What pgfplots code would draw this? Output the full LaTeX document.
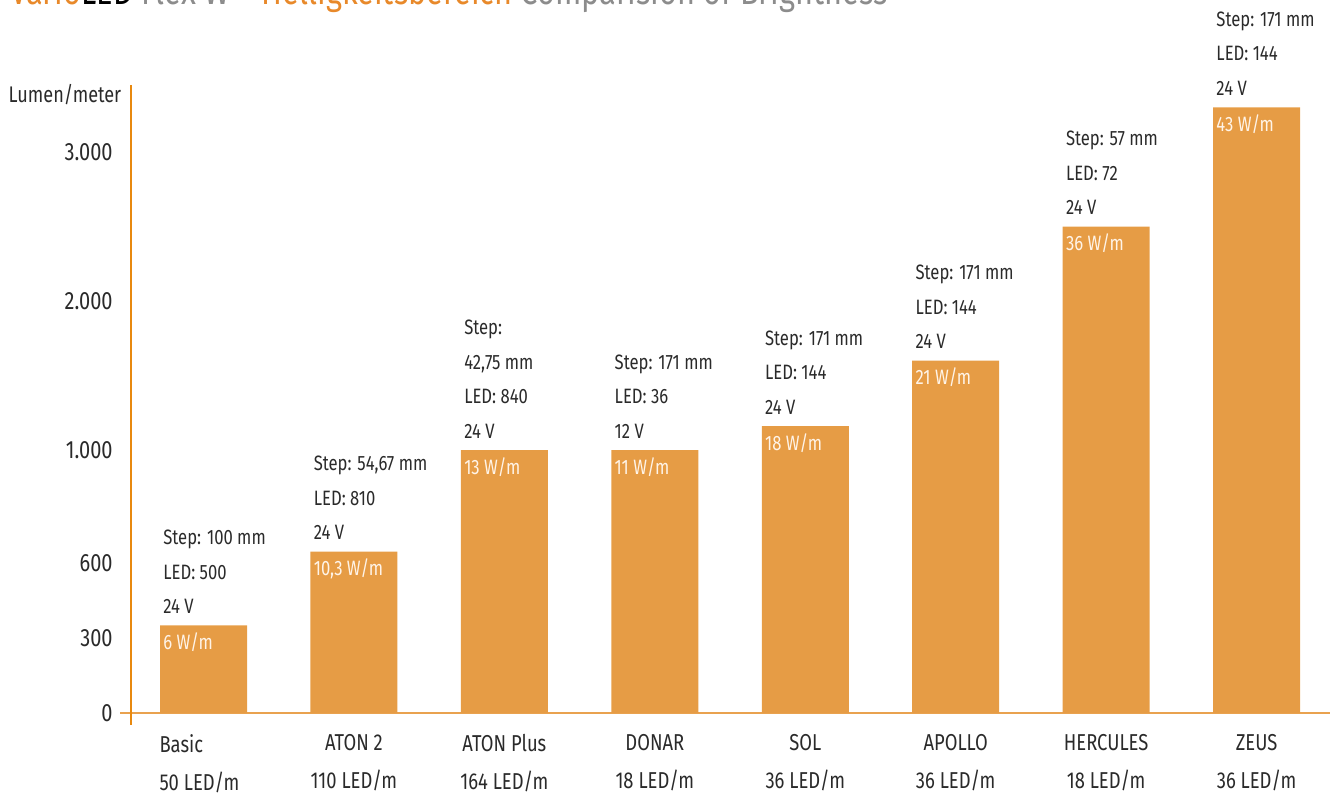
\documentclass[border=0pt]{standalone}
\usepackage{pgfplots}
\pgfplotsset{compat=1.18}
\usepackage{pgfplotstable}
\usepackage{fontspec}
\setmainfont{Fira Sans}[FakeStretch=0.8]
\definecolor{barc}{HTML}{E69C45}
\definecolor{axx}{HTML}{E9A24F}
\definecolor{axy}{HTML}{E8890F}
\definecolor{txt}{HTML}{2A2A2A}
\definecolor{wtxt}{HTML}{FFF4E8}
\definecolor{orT}{HTML}{E8892A}
\definecolor{grT}{HTML}{8C8C8C}

\pgfplotstableread{
x y step led volt watt
0 350 {Step: 100 mm} {LED: 500} {24 V} {6 W/m}
1 640 {Step: 54,67 mm} {LED: 810} {24 V} {10,3 W/m}
2 1000 {42,75 mm} {LED: 840} {24 V} {13 W/m}
3 1000 {Step: 171 mm} {LED: 36} {12 V} {11 W/m}
4 1160 {Step: 171 mm} {LED: 144} {24 V} {18 W/m}
5 1600 {Step: 171 mm} {LED: 144} {24 V} {21 W/m}
6 2500 {Step: 57 mm} {LED: 72} {24 V} {36 W/m}
7 3300 {Step: 171 mm} {LED: 144} {24 V} {43 W/m}
}\data

\pgfplotsset{
  lbl/.style={every node near coord/.append style={anchor=base west, inner sep=0pt, xshift=-20.25pt, yshift=#1, font=\fontsize{10.4}{12}\selectfont, text=txt}},
}
\newcommand\lft[1]{\makebox[0pt][l]{\hspace*{-22pt}#1}}

\begin{document}
\begin{tikzpicture}[x=1pt,y=1pt]
\useasboundingbox (0,0) rectangle (665,398);
\node[anchor=base west, inner sep=0pt, font=\fontsize{19.2}{21}\selectfont] at (5,395.5)
  {\textcolor{orT}{Vario}\textcolor{black}{LED} \textcolor{grT}{Flex W –} \textcolor{orT}{Helligkeitsbereich} \textcolor{grT}{Comparision of Brightness}};
\node[anchor=base east, inner sep=0pt, font=\fontsize{11.3}{13}\selectfont, text=txt] at (60.8,346.5) {Lumen/meter};
\begin{axis}[
  at={(65.5pt,41.5pt)}, anchor=south west, scale only axis,
  width=599.5pt, height=314pt,
  xmin=-0.482, xmax=7.488, ymin=0, ymax=3450,
  y coord trafo/.code={\pgfmathparse{0.25*min(#1,600)+0.2825*(min(max(#1,600),1000)-600)+0.149*(max(#1,1000)-1000)}},
  y coord inv trafo/.code={\pgfmathparse{4*min(#1,150)+(min(max(#1,150),263)-150)/0.2825+(max(#1,263)-263)/0.149}},
  axis lines*=left,
  x axis line style={draw=axx, line width=1pt, shorten <=-5.5pt},
  y axis line style={draw=axy, line width=0.75pt, shorten <=-6pt},
  major tick length=0pt,
  xtick={0,...,7},
  xticklabels={{\lft{Basic}\\\lft{50 LED/m}},{ATON 2\\110 LED/m},{ATON Plus\\164 LED/m},{DONAR\\18 LED/m},{SOL\\36 LED/m},{APOLLO\\36 LED/m},{HERCULES\\18 LED/m},{ZEUS\\36 LED/m}},
  xticklabel style={align=center, font=\fontsize{11.5}{19}\selectfont, text=txt, anchor=north, inner sep=0pt, yshift=-10.5pt},
  ytick={0,300,600,1000,2000,3000},
  yticklabels={0,300,600,1.000,2.000,3.000},
  yticklabel style={anchor=east, inner sep=0pt, xshift=-9pt, font=\fontsize{12.5}{15}\selectfont, text=txt},
  clip=false,
]
\addplot[ybar, bar width=43.5pt, fill=barc, draw=none,
  nodes near coords, point meta=explicit symbolic,
  every node near coord/.append style={anchor=base west, inner sep=0pt, xshift=-20.25pt, yshift=-12pt, font=\fontsize{10.4}{12}\selectfont, text=wtxt}]
  table[x=x, y=y, meta=watt] {\data};
\addplot[draw=none, mark=none, nodes near coords, point meta=explicit symbolic, lbl=6pt]
  table[x=x, y=y, meta=volt] {\data};
\addplot[draw=none, mark=none, nodes near coords, point meta=explicit symbolic, lbl=23.2pt]
  table[x=x, y=y, meta=led] {\data};
\addplot[draw=none, mark=none, nodes near coords, point meta=explicit symbolic, lbl=40.4pt]
  table[x=x, y=y, meta=step] {\data};
\addplot[draw=none, mark=none, nodes near coords, point meta=explicit symbolic, lbl=57.6pt]
  coordinates {(2,1000) [Step:]};
\end{axis}
\end{tikzpicture}
\end{document}
